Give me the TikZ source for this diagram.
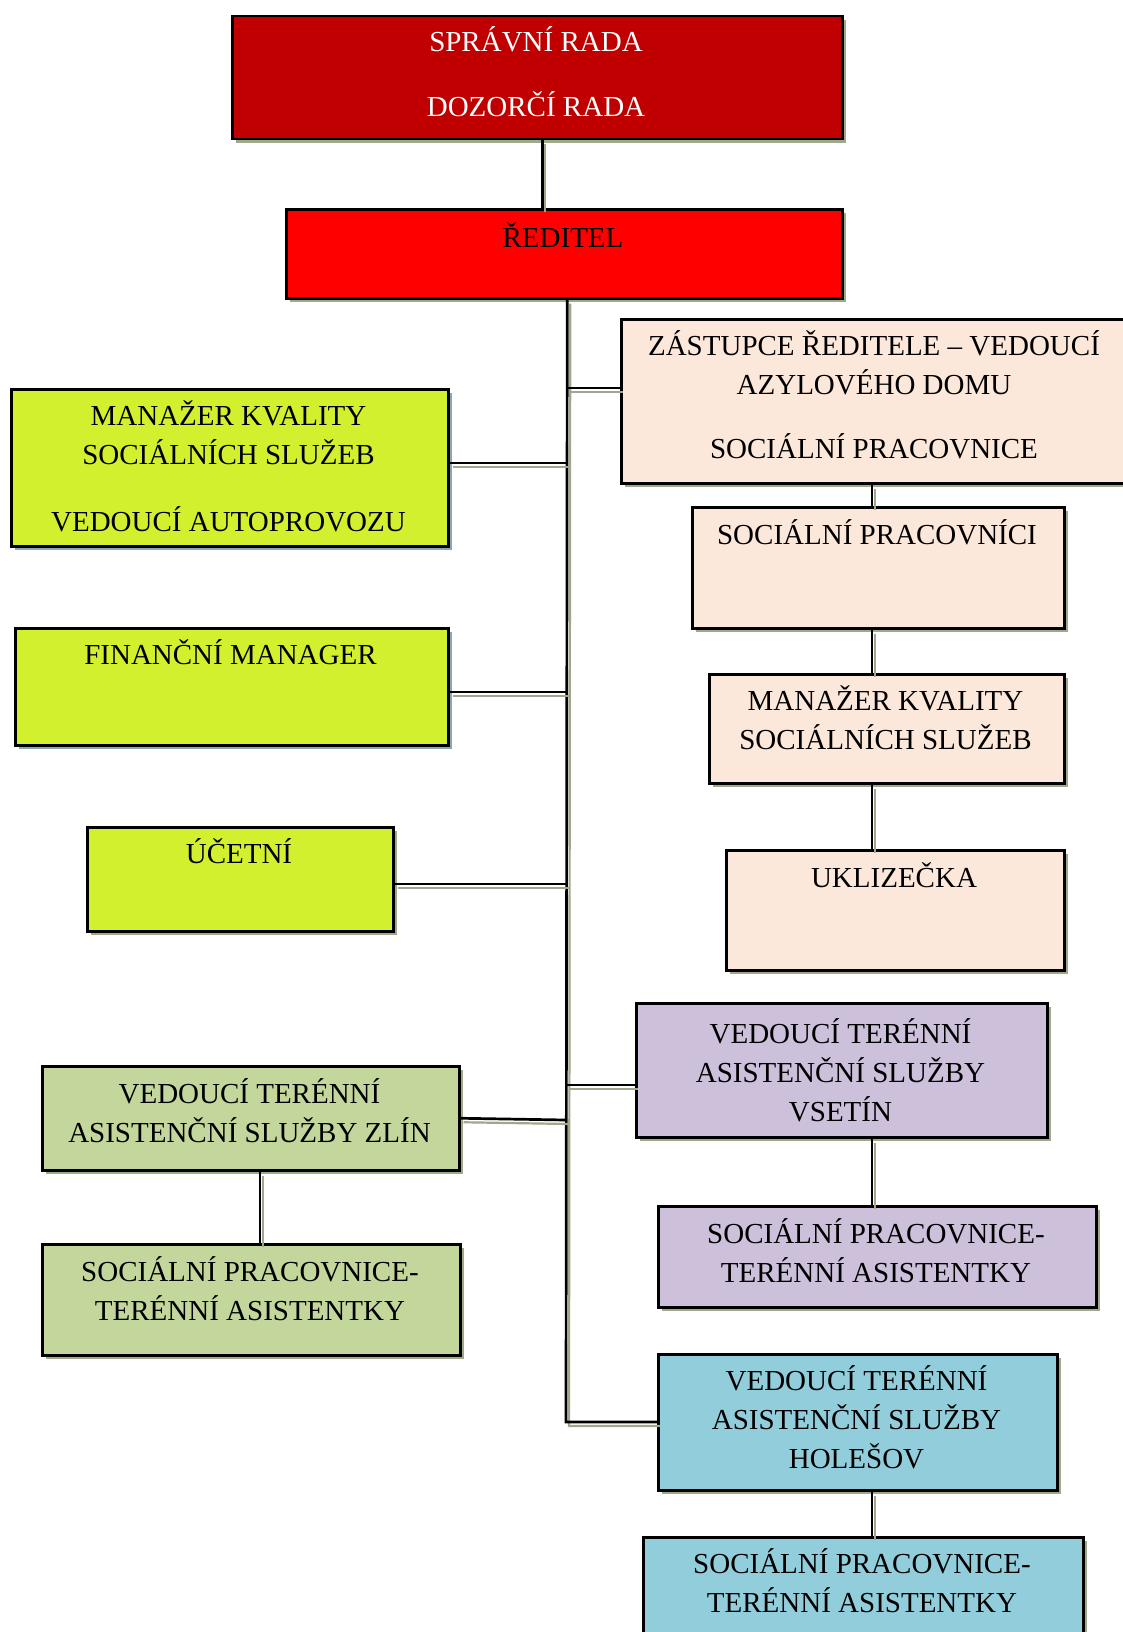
\documentclass[tikz,border=0pt]{standalone}
\usepackage{fontspec}
\setmainfont{Liberation Serif}
\usetikzlibrary{shadows}
\definecolor{cdarkred}{RGB}{192,0,0}
\definecolor{cred}{RGB}{255,0,0}
\definecolor{clime}{RGB}{211,240,46}
\definecolor{cpeach}{RGB}{252,232,218}
\definecolor{cpurple}{RGB}{204,192,218}
\definecolor{colive}{RGB}{195,214,155}
\definecolor{cblue}{RGB}{146,205,220}
\definecolor{cshadow}{RGB}{160,168,140}
\definecolor{cshadowb}{RGB}{140,165,178}
\newcommand\ttxt[1]{\parbox[t]{600pt}{\centering #1}}
\newcommand\conn[1]{\draw[conshadow,transform canvas={shift={(3pt,-4pt)}}] #1; \draw[con] #1;}
\begin{document}
\begin{tikzpicture}[x=1pt,y=-1pt,
  box/.style={draw=black, line width=2.5pt, rectangle, inner sep=0pt, anchor=north west,
    drop shadow={fill=cshadow, opacity=1, shadow xshift=3.5pt, shadow yshift=-4pt}},
  boxb/.style={box, drop shadow={fill=cshadowb, opacity=1, shadow xshift=3.5pt, shadow yshift=-4pt}},
  lbl/.style={anchor=base, inner sep=0pt, font=\fontsize{29}{39}\selectfont},
  con/.style={line width=2.7pt, black},
  conshadow/.style={line width=2.2pt, cshadow},
]
\useasboundingbox (0,0) rectangle (1123,1632);
\fill[white] (0,0) rectangle (1123,1632);

% boxes
\node[box, fill=cdarkred, minimum width=610pt, minimum height=123pt] (board) at (231,15) {};
\node[box, fill=cred, minimum width=556pt, minimum height=89pt] (red) at (285,208) {};
\node[box, fill=cpeach, minimum width=508pt, minimum height=164pt] (zast) at (620,318) {};
\node[boxb, fill=clime, minimum width=437pt, minimum height=157pt] (mkq) at (10,388) {};
\node[boxb, fill=clime, minimum width=433pt, minimum height=117pt] (fin) at (14,627) {};
\node[box, fill=clime, minimum width=306pt, minimum height=104pt] (uct) at (86,826) {};
\node[box, fill=cpeach, minimum width=372pt, minimum height=121pt] (socp) at (691,506) {};
\node[box, fill=cpeach, minimum width=355pt, minimum height=109pt] (mkqb) at (708,673) {};
\node[box, fill=cpeach, minimum width=338pt, minimum height=120pt] (ukl) at (725,849) {};
\node[box, fill=cpurple, minimum width=411pt, minimum height=134pt] (vse) at (635,1002) {};
\node[box, fill=colive, minimum width=417pt, minimum height=104pt] (zlin) at (41,1065) {};
\node[box, fill=colive, minimum width=418pt, minimum height=111pt] (zlinb) at (41,1243) {};
\node[box, fill=cpurple, minimum width=438pt, minimum height=101pt] (vseb) at (657,1205) {};
\node[box, fill=cblue, minimum width=399pt, minimum height=136pt] (hol) at (657,1353) {};
\node[box, fill=cblue, minimum width=440pt, minimum height=124pt] (holb) at (642,1536) {};

% connector coordinates
\coordinate (tend) at (566,1422);
\coordinate (j1) at (566,388);
\coordinate (j2) at (566,463);
\coordinate (j3) at (566,692);
\coordinate (j4) at (566,884);
\coordinate (j5) at (566,1085);
\coordinate (j6) at (566,1120);
\coordinate (rx) at (872,0);
\coordinate (lx) at (260,0);

% connectors
\conn{([xshift=5pt]board.south) -- ([xshift=5pt]board.south |- red.north)}
\conn{([xshift=3pt]red.south) -- (tend) -- (tend -| hol.west)}
\conn{(j1) -- (j1 -| zast.west)}
\conn{(mkq.east |- j2) -- (j2)}
\conn{(fin.east |- j3) -- (j3)}
\conn{(uct.east |- j4) -- (j4)}
\conn{(j5) -- (j5 -| vse.west)}
\conn{(zlin.east) -- (j6)}
\conn{(zast.south -| rx) -- (socp.north -| rx)}
\conn{(socp.south -| rx) -- (mkqb.north -| rx)}
\conn{(mkqb.south -| rx) -- (ukl.north -| rx)}
\conn{(vse.south -| rx) -- (vseb.north -| rx)}
\conn{(hol.south -| rx) -- (holb.north -| rx)}
\conn{(zlin.south -| lx) -- (zlinb.north -| lx)}

% texts
\node[lbl, text=white] (t0) at (536,51.7) {\ttxt{SPRÁVNÍ RADA\\[25.5pt]DOZORČÍ RADA}};
\node[lbl] (t1) at (563,247) {\ttxt{ŘEDITEL}};
\node[lbl] (t2) at (874,355) {\ttxt{ZÁSTUPCE ŘEDITELE – VEDOUCÍ\\AZYLOVÉHO DOMU\\[25pt]SOCIÁLNÍ PRACOVNICE}};
\node[lbl] (t3) at (228.5,425.7) {\ttxt{MANAŽER KVALITY\\SOCIÁLNÍCH SLUŽEB\\[28pt]VEDOUCÍ AUTOPROVOZU}};
\node[lbl] (t4) at (230.5,664.5) {\ttxt{FINANČNÍ MANAGER}};
\node[lbl] (t5) at (239,863) {\ttxt{ÚČETNÍ}};
\node[lbl] (t6) at (877,544) {\ttxt{SOCIÁLNÍ PRACOVNÍCI}};
\node[lbl] (t7) at (885.5,710) {\ttxt{MANAŽER KVALITY\\SOCIÁLNÍCH SLUŽEB}};
\node[lbl] (t8) at (894,887) {\ttxt{UKLIZEČKA}};
\node[lbl] (t9) at (840.5,1043) {\ttxt{VEDOUCÍ TERÉNNÍ\\ASISTENČNÍ SLUŽBY\\VSETÍN}};
\node[lbl] (t10) at (249.5,1103) {\ttxt{VEDOUCÍ TERÉNNÍ\\ASISTENČNÍ SLUŽBY ZLÍN}};
\node[lbl] (t11) at (250,1281) {\ttxt{SOCIÁLNÍ PRACOVNICE-\\TERÉNNÍ ASISTENTKY}};
\node[lbl] (t12) at (876,1243) {\ttxt{SOCIÁLNÍ PRACOVNICE-\\TERÉNNÍ ASISTENTKY}};
\node[lbl] (t13) at (856.5,1390) {\ttxt{VEDOUCÍ TERÉNNÍ\\ASISTENČNÍ SLUŽBY\\HOLEŠOV}};
\node[lbl] (t14) at (862,1573) {\ttxt{SOCIÁLNÍ PRACOVNICE-\\TERÉNNÍ ASISTENTKY}};
\end{tikzpicture}
\end{document}
